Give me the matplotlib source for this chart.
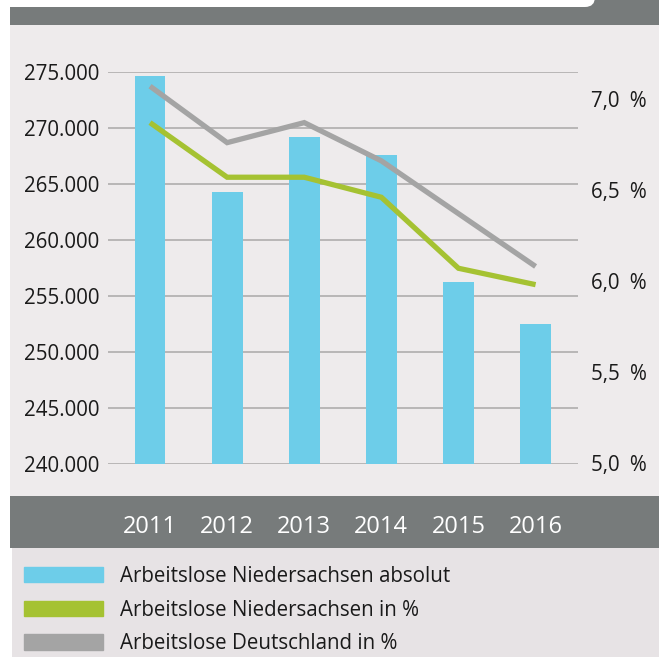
import matplotlib
matplotlib.use("Agg")
import matplotlib.pyplot as plt
from matplotlib.patches import Rectangle, FancyBboxPatch, Patch

plt.rcParams['font.family'] = ['Open Sans', 'DejaVu Sans']

# ---- data ----
years = ["2011", "2012", "2013", "2014", "2015", "2016"]
absolut_ni = [274600, 264300, 269200, 267600, 256250, 252500]
quote_ni = [6.87, 6.57, 6.57, 6.46, 6.07, 5.98]
quote_de = [7.07, 6.76, 6.87, 6.66, 6.37, 6.08]
left_ticks = [240000, 245000, 250000, 255000, 260000, 265000, 270000, 275000]
left_labels = ["240.000", "245.000", "250.000", "255.000", "260.000", "265.000", "270.000", "275.000"]
right_ticks = [5.0, 5.5, 6.0, 6.5, 7.0]
right_labels = ["5,0\u2002%", "5,5\u2002%", "6,0\u2002%", "6,5\u2002%", "7,0\u2002%"]
legend_names = ["Arbeitslose Niedersachsen absolut",
                "Arbeitslose Niedersachsen in %",
                "Arbeitslose Deutschland in %"]

# ---- colours ----
c_bar = "#6dcde9"
c_green = "#a5c232"
c_gray = "#a4a4a4"
c_band = "#777b7b"
c_plotbg = "#eeebec"
c_legbg = "#e7e3e5"
c_grid = "#b4b2b2"
c_text = "#1a1a1a"

W, H = 659, 657
fig = plt.figure(figsize=(W / 100, H / 100), dpi=100)
fig.patch.set_facecolor("white")

# background panel axes in pixel coordinates
bg = fig.add_axes([0, 0, 1, 1], zorder=-5)
bg.set_xlim(0, W)
bg.set_ylim(H, 0)
bg.axis("off")
bg.add_patch(Rectangle((10, 0), W - 10, 25, color=c_band, lw=0))
bg.add_patch(FancyBboxPatch((-30, -30), 625, 37, boxstyle="round,pad=0,rounding_size=10",
                            color="white", lw=0))
bg.add_patch(Rectangle((10, 25), W - 10, 471, color=c_plotbg, lw=0))
bg.add_patch(Rectangle((10, 496), W - 10, 52, color=c_band, lw=0))
bg.add_patch(Rectangle((12, 548), W - 12, H - 548, color=c_legbg, lw=0))

fs = 14.8
fpx = fs * 100 / 72

# main axes
ax = fig.add_axes([108 / W, 1 - 464 / H, 470 / W, 392 / H], zorder=1)
ax.set_facecolor("none")
x = list(range(len(years)))
ax.bar(x, absolut_ni, width=0.40, color=c_bar, zorder=2)
ax.set_xlim(-0.545, 5.55)
ax.set_ylim(240000, 275000)
ax.set_yticks(left_ticks, left_labels)
ax.grid(axis="y", color=c_grid, lw=1.3)
ax.set_axisbelow(True)
for s in ax.spines.values():
    s.set_visible(False)
ax.tick_params(axis="y", length=0, pad=6.0, labelsize=fs, labelcolor=c_text)
ax.set_xticks(x, years)
ax.tick_params(axis="x", length=0, pad=36.5, labelsize=17, labelcolor="white")

ax2 = ax.twinx()
ax2.plot(x, quote_de, color=c_gray, lw=3.8, solid_capstyle="butt", solid_joinstyle="miter")
ax2.plot(x, quote_ni, color=c_green, lw=3.8, solid_capstyle="butt", solid_joinstyle="miter")
ax2.set_ylim(4.995, 7.148)
ax2.set_yticks(right_ticks, right_labels)
for s in ax2.spines.values():
    s.set_visible(False)
ax2.tick_params(axis="y", length=0, pad=9.4, labelsize=fs, labelcolor=c_text)

handles = [Patch(color=c_bar), Patch(color=c_green), Patch(color=c_gray)]
fig.legend(handles, legend_names, loc="upper left",
           bbox_to_anchor=(24 / W, 1 - 566 / H), frameon=False, fontsize=fs,
           handlelength=79 / fpx, handleheight=15.7 / fpx, handletextpad=16.5 / fpx,
           labelspacing=0.61, borderpad=0, borderaxespad=0, labelcolor=c_text)

fig.savefig("out.png", dpi=100, facecolor="white")
